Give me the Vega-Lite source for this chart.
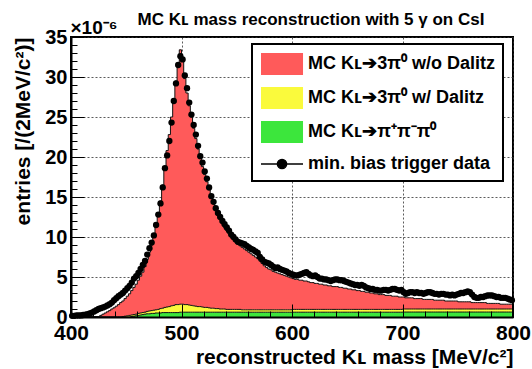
{
"$schema":"https://vega.github.io/schema/vega-lite/v6.json",
"width":442,"height":280,
"autosize":{"type":"none"},
"padding":{"left":71,"top":37,"right":19,"bottom":52},
"background":"white",
"config":{
 "font":"Liberation Sans",
 "view":{"stroke":"black","strokeWidth":2},
 "axis":{"labelFont":"Liberation Sans","titleFont":"Liberation Sans","labelColor":"black","titleColor":"black"}
},
"title":{"text":"MC Kʟ mass reconstruction with 5 γ on CsI","font":"Liberation Sans","fontSize":17,"fontWeight":"bold","color":"black","anchor":"middle","frame":"group","dx":19,"dy":11,"offset":0},
"data":{"values":[
{"m":401,"d":0.15,"t":0,"yg":0,"g":0},{"m":403,"d":0.15,"t":0,"yg":0,"g":0},{"m":405,"d":0.2,"t":0,"yg":0,"g":0},{"m":407,"d":0.2,"t":0,"yg":0,"g":0},
{"m":409,"d":0.2,"t":0,"yg":0,"g":0},{"m":411,"d":0.25,"t":0,"yg":0,"g":0},{"m":413,"d":0.3,"t":0,"yg":0,"g":0},{"m":415,"d":0.35,"t":0,"yg":0,"g":0},
{"m":417,"d":0.45,"t":0,"yg":0,"g":0},{"m":419,"d":0.55,"t":0,"yg":0,"g":0},{"m":421,"d":0.7,"t":0,"yg":0,"g":0},{"m":423,"d":0.85,"t":0,"yg":0,"g":0},
{"m":425,"d":1.0,"t":0,"yg":0,"g":0},{"m":427,"d":1.1,"t":0.2,"yg":0,"g":0},{"m":429,"d":1.2,"t":0.35,"yg":0,"g":0},{"m":431,"d":1.3,"t":0.5,"yg":0,"g":0},
{"m":433,"d":1.45,"t":0.65,"yg":0,"g":0},{"m":435,"d":1.6,"t":0.8,"yg":0,"g":0},{"m":437,"d":1.8,"t":1.0,"yg":0,"g":0},{"m":439,"d":2.1,"t":1.15,"yg":0,"g":0},
{"m":441,"d":2.35,"t":1.35,"yg":0,"g":0},{"m":443,"d":2.6,"t":1.55,"yg":0,"g":0},{"m":445,"d":2.8,"t":1.8,"yg":0,"g":0},{"m":447,"d":3.0,"t":2.0,"yg":0.05,"g":0},
{"m":449,"d":3.3,"t":2.3,"yg":0.1,"g":0},{"m":451,"d":3.6,"t":2.6,"yg":0.15,"g":0},{"m":453,"d":3.9,"t":2.9,"yg":0.2,"g":0},{"m":455,"d":4.3,"t":3.3,"yg":0.25,"g":0.05},
{"m":457,"d":4.8,"t":3.7,"yg":0.3,"g":0.1},{"m":459,"d":5.1,"t":4.1,"yg":0.35,"g":0.15},{"m":461,"d":5.5,"t":4.6,"yg":0.45,"g":0.2},{"m":463,"d":6.0,"t":5.1,"yg":0.5,"g":0.25},
{"m":465,"d":6.5,"t":5.6,"yg":0.55,"g":0.3},{"m":467,"d":7.0,"t":6.3,"yg":0.6,"g":0.35},{"m":469,"d":7.8,"t":7.2,"yg":0.7,"g":0.4},{"m":471,"d":8.6,"t":8.1,"yg":0.75,"g":0.4},
{"m":473,"d":9.3,"t":9.0,"yg":0.8,"g":0.45},{"m":475,"d":10.2,"t":10.0,"yg":0.85,"g":0.45},{"m":477,"d":11.5,"t":11.3,"yg":0.9,"g":0.5},{"m":479,"d":12.8,"t":12.7,"yg":0.95,"g":0.5},
{"m":481,"d":14.2,"t":14.5,"yg":1.05,"g":0.5},{"m":483,"d":16.2,"t":16.5,"yg":1.1,"g":0.55},{"m":485,"d":18.6,"t":18.8,"yg":1.2,"g":0.55},{"m":487,"d":20.2,"t":20.8,"yg":1.25,"g":0.55},
{"m":489,"d":22.0,"t":22.8,"yg":1.3,"g":0.55},{"m":491,"d":24.3,"t":25.0,"yg":1.4,"g":0.55},{"m":493,"d":27.0,"t":27.3,"yg":1.45,"g":0.55},{"m":495,"d":29.2,"t":29.5,"yg":1.55,"g":0.55},
{"m":497,"d":31.5,"t":31.8,"yg":1.55,"g":0.55},{"m":499,"d":32.6,"t":33.4,"yg":1.6,"g":0.6},{"m":501,"d":32.2,"t":32.0,"yg":1.6,"g":0.6},{"m":503,"d":30.2,"t":29.8,"yg":1.55,"g":0.6},
{"m":505,"d":28.6,"t":28.0,"yg":1.55,"g":0.6},{"m":507,"d":26.8,"t":26.4,"yg":1.5,"g":0.6},{"m":509,"d":25.3,"t":25.0,"yg":1.45,"g":0.6},{"m":511,"d":24.0,"t":23.6,"yg":1.4,"g":0.6},
{"m":513,"d":22.8,"t":22.3,"yg":1.35,"g":0.6},{"m":515,"d":21.4,"t":21.0,"yg":1.3,"g":0.6},{"m":517,"d":20.1,"t":19.8,"yg":1.3,"g":0.6},{"m":519,"d":19.3,"t":18.8,"yg":1.25,"g":0.6},
{"m":521,"d":18.2,"t":17.8,"yg":1.2,"g":0.6},{"m":523,"d":17.3,"t":16.9,"yg":1.2,"g":0.6},{"m":525,"d":16.2,"t":15.9,"yg":1.15,"g":0.6},{"m":527,"d":15.1,"t":15.0,"yg":1.1,"g":0.6},
{"m":529,"d":14.4,"t":14.2,"yg":1.1,"g":0.6},{"m":531,"d":13.6,"t":13.5,"yg":1.05,"g":0.6},{"m":533,"d":13.0,"t":12.8,"yg":1.05,"g":0.6},{"m":535,"d":12.5,"t":12.2,"yg":1.0,"g":0.6},
{"m":537,"d":12.0,"t":11.7,"yg":1.0,"g":0.6},{"m":539,"d":11.6,"t":11.2,"yg":1.0,"g":0.6},{"m":541,"d":11.2,"t":10.8,"yg":0.95,"g":0.6},{"m":543,"d":10.8,"t":10.4,"yg":0.95,"g":0.6},
{"m":545,"d":10.3,"t":10.0,"yg":0.95,"g":0.6},{"m":547,"d":10.0,"t":9.7,"yg":0.95,"g":0.6},{"m":549,"d":9.7,"t":9.4,"yg":0.95,"g":0.6},{"m":551,"d":9.4,"t":9.1,"yg":0.95,"g":0.6},
{"m":553,"d":9.3,"t":8.9,"yg":0.95,"g":0.6},{"m":555,"d":9.2,"t":8.7,"yg":0.9,"g":0.6},{"m":557,"d":9.1,"t":8.5,"yg":0.9,"g":0.6},{"m":559,"d":8.9,"t":8.3,"yg":0.9,"g":0.6},
{"m":561,"d":8.7,"t":8.1,"yg":0.9,"g":0.6},{"m":563,"d":8.5,"t":7.9,"yg":0.9,"g":0.6},{"m":565,"d":8.4,"t":7.7,"yg":0.9,"g":0.6},{"m":567,"d":8.2,"t":7.5,"yg":0.9,"g":0.6},
{"m":569,"d":8.0,"t":7.3,"yg":0.9,"g":0.6},{"m":571,"d":7.5,"t":7.0,"yg":0.9,"g":0.6},{"m":573,"d":7.2,"t":6.7,"yg":0.9,"g":0.6},{"m":575,"d":6.9,"t":6.4,"yg":0.9,"g":0.6},
{"m":577,"d":6.8,"t":6.2,"yg":0.9,"g":0.6},{"m":579,"d":6.7,"t":6.0,"yg":0.9,"g":0.6},{"m":581,"d":6.5,"t":5.9,"yg":0.9,"g":0.6},{"m":583,"d":6.3,"t":5.7,"yg":0.9,"g":0.6},
{"m":585,"d":6.1,"t":5.6,"yg":0.9,"g":0.6},{"m":587,"d":6.2,"t":5.5,"yg":0.9,"g":0.6},{"m":589,"d":6.0,"t":5.4,"yg":0.9,"g":0.6},{"m":591,"d":5.9,"t":5.3,"yg":0.9,"g":0.6},
{"m":593,"d":5.8,"t":5.2,"yg":0.9,"g":0.6},{"m":595,"d":5.7,"t":5.1,"yg":0.9,"g":0.6},{"m":597,"d":5.5,"t":5.0,"yg":0.9,"g":0.6},{"m":599,"d":5.4,"t":4.9,"yg":0.9,"g":0.6},
{"m":601,"d":5.3,"t":4.8,"yg":0.95,"g":0.6},{"m":603,"d":5.2,"t":4.7,"yg":0.95,"g":0.6},{"m":605,"d":5.2,"t":4.7,"yg":0.95,"g":0.6},{"m":607,"d":5.3,"t":4.6,"yg":0.95,"g":0.6},
{"m":609,"d":5.4,"t":4.6,"yg":0.95,"g":0.6},{"m":611,"d":5.5,"t":4.5,"yg":0.95,"g":0.6},{"m":613,"d":5.6,"t":4.5,"yg":0.95,"g":0.6},{"m":615,"d":5.4,"t":4.4,"yg":0.95,"g":0.6},
{"m":617,"d":5.2,"t":4.3,"yg":0.95,"g":0.6},{"m":619,"d":5.1,"t":4.3,"yg":0.95,"g":0.6},{"m":621,"d":5.2,"t":4.2,"yg":0.95,"g":0.6},{"m":623,"d":5.0,"t":4.2,"yg":0.95,"g":0.6},
{"m":625,"d":4.8,"t":4.1,"yg":0.95,"g":0.6},{"m":627,"d":4.8,"t":4.1,"yg":0.95,"g":0.6},{"m":629,"d":4.7,"t":4.0,"yg":0.95,"g":0.6},{"m":631,"d":4.7,"t":4.0,"yg":0.95,"g":0.6},
{"m":633,"d":4.6,"t":3.9,"yg":0.95,"g":0.6},{"m":635,"d":4.5,"t":3.9,"yg":0.95,"g":0.6},{"m":637,"d":4.6,"t":3.8,"yg":0.95,"g":0.6},{"m":639,"d":4.7,"t":3.8,"yg":0.95,"g":0.6},
{"m":641,"d":4.7,"t":3.8,"yg":0.95,"g":0.6},{"m":643,"d":4.6,"t":3.7,"yg":0.95,"g":0.6},{"m":645,"d":4.6,"t":3.7,"yg":0.95,"g":0.6},{"m":647,"d":4.5,"t":3.6,"yg":0.95,"g":0.6},
{"m":649,"d":4.4,"t":3.6,"yg":0.95,"g":0.6},{"m":651,"d":4.3,"t":3.5,"yg":0.95,"g":0.6},{"m":653,"d":4.2,"t":3.5,"yg":0.95,"g":0.6},{"m":655,"d":4.1,"t":3.4,"yg":0.95,"g":0.6},
{"m":657,"d":4.0,"t":3.4,"yg":0.95,"g":0.6},{"m":659,"d":4.0,"t":3.3,"yg":0.95,"g":0.6},{"m":661,"d":3.9,"t":3.3,"yg":0.95,"g":0.6},{"m":663,"d":4.0,"t":3.2,"yg":0.95,"g":0.6},
{"m":665,"d":3.9,"t":3.2,"yg":0.95,"g":0.6},{"m":667,"d":3.7,"t":3.1,"yg":0.95,"g":0.6},{"m":669,"d":3.6,"t":3.1,"yg":0.95,"g":0.6},{"m":671,"d":3.5,"t":3.0,"yg":0.95,"g":0.6},
{"m":673,"d":3.5,"t":3.0,"yg":0.95,"g":0.6},{"m":675,"d":3.4,"t":2.9,"yg":0.95,"g":0.6},{"m":677,"d":3.4,"t":2.9,"yg":0.95,"g":0.6},{"m":679,"d":3.3,"t":2.8,"yg":0.95,"g":0.6},
{"m":681,"d":3.3,"t":2.8,"yg":0.95,"g":0.6},{"m":683,"d":3.4,"t":2.8,"yg":0.95,"g":0.6},{"m":685,"d":3.4,"t":2.7,"yg":0.95,"g":0.6},{"m":687,"d":3.3,"t":2.7,"yg":0.95,"g":0.6},
{"m":689,"d":3.4,"t":2.7,"yg":0.95,"g":0.6},{"m":691,"d":3.5,"t":2.6,"yg":0.95,"g":0.6},{"m":693,"d":3.5,"t":2.6,"yg":0.95,"g":0.6},{"m":695,"d":3.4,"t":2.6,"yg":0.95,"g":0.6},
{"m":697,"d":3.3,"t":2.5,"yg":0.95,"g":0.6},{"m":699,"d":3.4,"t":2.5,"yg":0.95,"g":0.6},{"m":701,"d":3.1,"t":2.5,"yg":1.0,"g":0.62},{"m":703,"d":2.9,"t":2.4,"yg":1.0,"g":0.62},
{"m":705,"d":3.0,"t":2.4,"yg":1.0,"g":0.62},{"m":707,"d":3.1,"t":2.4,"yg":1.0,"g":0.62},{"m":709,"d":3.1,"t":2.4,"yg":1.0,"g":0.62},{"m":711,"d":3.0,"t":2.3,"yg":1.0,"g":0.62},
{"m":713,"d":3.1,"t":2.3,"yg":1.0,"g":0.62},{"m":715,"d":3.0,"t":2.3,"yg":1.0,"g":0.62},{"m":717,"d":3.0,"t":2.3,"yg":1.0,"g":0.62},{"m":719,"d":2.9,"t":2.2,"yg":1.0,"g":0.62},
{"m":721,"d":3.0,"t":2.2,"yg":1.0,"g":0.62},{"m":723,"d":3.1,"t":2.2,"yg":1.0,"g":0.62},{"m":725,"d":3.1,"t":2.2,"yg":1.0,"g":0.62},{"m":727,"d":3.0,"t":2.2,"yg":1.0,"g":0.62},
{"m":729,"d":2.9,"t":2.1,"yg":1.0,"g":0.62},{"m":731,"d":2.9,"t":2.1,"yg":1.0,"g":0.62},{"m":733,"d":2.8,"t":2.1,"yg":1.0,"g":0.62},{"m":735,"d":2.9,"t":2.1,"yg":1.0,"g":0.62},
{"m":737,"d":2.9,"t":2.1,"yg":1.0,"g":0.62},{"m":739,"d":2.8,"t":2.0,"yg":1.0,"g":0.62},{"m":741,"d":2.8,"t":2.0,"yg":1.0,"g":0.62},{"m":743,"d":2.7,"t":2.0,"yg":1.0,"g":0.62},
{"m":745,"d":2.8,"t":2.0,"yg":1.0,"g":0.62},{"m":747,"d":2.7,"t":2.0,"yg":1.0,"g":0.62},{"m":749,"d":2.8,"t":2.0,"yg":1.0,"g":0.62},{"m":751,"d":2.9,"t":1.9,"yg":1.0,"g":0.62},
{"m":753,"d":3.0,"t":1.9,"yg":1.0,"g":0.62},{"m":755,"d":3.0,"t":1.9,"yg":1.0,"g":0.62},{"m":757,"d":3.1,"t":1.9,"yg":1.0,"g":0.62},{"m":759,"d":3.2,"t":1.9,"yg":1.0,"g":0.62},
{"m":761,"d":3.1,"t":1.9,"yg":1.0,"g":0.62},{"m":763,"d":2.8,"t":1.8,"yg":1.0,"g":0.62},{"m":765,"d":2.5,"t":1.8,"yg":1.0,"g":0.62},{"m":767,"d":2.4,"t":1.8,"yg":1.0,"g":0.62},
{"m":769,"d":2.4,"t":1.8,"yg":1.0,"g":0.62},{"m":771,"d":2.5,"t":1.8,"yg":1.0,"g":0.62},{"m":773,"d":2.5,"t":1.8,"yg":1.0,"g":0.62},{"m":775,"d":2.6,"t":1.8,"yg":1.0,"g":0.62},
{"m":777,"d":2.7,"t":1.7,"yg":1.0,"g":0.62},{"m":779,"d":2.7,"t":1.7,"yg":1.0,"g":0.62},{"m":781,"d":2.7,"t":1.7,"yg":1.0,"g":0.62},{"m":783,"d":2.6,"t":1.7,"yg":1.0,"g":0.62},
{"m":785,"d":2.5,"t":1.7,"yg":1.0,"g":0.62},{"m":787,"d":2.5,"t":1.7,"yg":1.0,"g":0.62},{"m":789,"d":2.4,"t":1.6,"yg":1.0,"g":0.62},{"m":791,"d":2.4,"t":1.6,"yg":1.0,"g":0.62},
{"m":793,"d":2.4,"t":1.6,"yg":1.0,"g":0.62},{"m":795,"d":2.3,"t":1.6,"yg":1.0,"g":0.62},{"m":797,"d":2.2,"t":1.6,"yg":1.0,"g":0.62},{"m":799,"d":2.1,"t":1.6,"yg":1.0,"g":0.62}
]},
"resolve":{"axis":{"x":"independent","y":"independent"}},
"layer":[
 {"mark":{"type":"area","interpolate":"step"},
  "encoding":{
   "x":{"field":"m","type":"quantitative","scale":{"domain":[400,800],"nice":false,"zero":false},
        "axis":{"orient":"bottom","values":[400,500,600,700,800],"title":"reconstructed Kʟ mass [MeV/c²]","titleAnchor":"end","titleFontSize":21,"titleFontWeight":"bold","titlePadding":3,
                "labelFontSize":21,"labelFontWeight":"bold","labelPadding":5,"labelFlush":false,"labelOverlap":false,"labelBound":false,
                "ticks":false,"domain":false,"grid":true,"gridDash":[2,2],"gridColor":"#333","gridWidth":1,"gridOpacity":0.8,"zindex":0}},
   "y":{"field":"t","type":"quantitative","stack":null,"scale":{"domain":[0,35],"nice":false},
        "axis":{"orient":"left","values":[0,5,10,15,20,25,30,35],"title":"entries [/(2MeV/c²)]","titleAnchor":"end","titleFontSize":21,"titleFontWeight":"bold","titlePadding":11,
                "labelFontSize":20,"labelFontWeight":"bold","labelPadding":4,"labelFlush":false,"labelOverlap":false,"labelBound":false,
                "ticks":false,"domain":false,"grid":true,"gridDash":[2,2],"gridColor":"#333","gridWidth":1,"gridOpacity":0.8,"zindex":0}},
   "y2":{"field":"yg"},
   "color":{"datum":"MC Kʟ➔3π⁰ w/o Dalitz",
     "scale":{"domain":["MC Kʟ➔3π⁰ w/o Dalitz","MC Kʟ➔3π⁰ w/ Dalitz","MC Kʟ➔π⁺π⁻π⁰","min. bias trigger data"],"range":["#ff5a5a","#fafa3c","#3ce63c","#000000"]},
     "legend":{"title":null,"orient":"none","legendX":181,"legendY":7,"direction":"vertical","strokeColor":"black","fillColor":"white","padding":8,"cornerRadius":0,
       "labelFont":"Liberation Sans","labelFontSize":18,"labelFontWeight":"bold","labelColor":"black","labelLimit":400,"labelOffset":24,
       "symbolSize":484,"symbolType":"M-1,-1H2.82V1H-1Z","rowPadding":6,
       "encode":{
         "legend":{"update":{"strokeWidth":{"value":2}}},
         "symbols":{"update":{
           "shape":{"signal":"datum.value === 'min. bias trigger data' ? 'M-1,0H2.82M1.33,0A0.42,0.42,0,1,1,0.49,0A0.42,0.42,0,1,1,1.33,0Z' : 'M-1,-1H2.82V1H-1Z'"},
           "fill":{"scale":"color","field":"value"},
           "stroke":{"signal":"datum.value === 'min. bias trigger data' ? 'black' : 'transparent'"},
           "strokeWidth":{"value":1.5},"opacity":{"value":1}}}}}}
  }},
 {"mark":{"type":"area","interpolate":"step"},
  "encoding":{"x":{"field":"m","type":"quantitative","axis":null},"y":{"field":"yg","type":"quantitative","stack":null,"axis":null},"y2":{"field":"g"},"color":{"datum":"MC Kʟ➔3π⁰ w/ Dalitz"}}},
 {"mark":{"type":"area","interpolate":"step"},
  "encoding":{"x":{"field":"m","type":"quantitative","axis":null},"y":{"field":"g","type":"quantitative","stack":null,"axis":null},"color":{"datum":"MC Kʟ➔π⁺π⁻π⁰"}}},
 {"mark":{"type":"line","interpolate":"step","color":"#111","strokeWidth":1},
  "encoding":{
   "x":{"field":"m","type":"quantitative",
        "axis":{"orient":"bottom","values":[400,420,440,460,480,500,520,540,560,580,600,620,640,660,680,700,720,740,760,780,800],"labels":false,"grid":false,"title":null,
                "domain":true,"domainColor":"black","domainWidth":2,"tickColor":"black","tickWidth":1,
                "tickSize":{"condition":{"test":"datum.value % 100 === 0","value":-13},"value":-6},"zindex":1}},
   "y":{"field":"t","type":"quantitative","stack":null,
        "axis":{"orient":"left","values":[0,1,2,3,4,5,6,7,8,9,10,11,12,13,14,15,16,17,18,19,20,21,22,23,24,25,26,27,28,29,30,31,32,33,34,35],"labels":false,"grid":false,
                "title":"×10⁻⁶","titleAngle":0,"titleAlign":"left","titleBaseline":"alphabetic","titleX":-1,"titleY":-4,"titleFontSize":19,"titleFontWeight":"bold",
                "domain":true,"domainColor":"black","domainWidth":2,"tickColor":"black","tickWidth":1,
                "tickSize":{"condition":{"test":"datum.value % 5 === 0","value":-13},"value":-6},"zindex":1}}
  }},
 {"mark":{"type":"line","interpolate":"step","color":"#111","strokeWidth":1},
  "encoding":{"x":{"field":"m","type":"quantitative","axis":null},"y":{"field":"yg","type":"quantitative","stack":null,"axis":null}}},
 {"mark":{"type":"line","interpolate":"step","color":"#111","strokeWidth":1},
  "encoding":{"x":{"field":"m","type":"quantitative","axis":null},"y":{"field":"g","type":"quantitative","stack":null,"axis":null}}},
 {"mark":{"type":"point","filled":true,"size":40,"opacity":1},
  "encoding":{"x":{"field":"m","type":"quantitative","axis":null},"y":{"field":"d","type":"quantitative","stack":null,"axis":null},"color":{"datum":"min. bias trigger data"}}}
]
}
